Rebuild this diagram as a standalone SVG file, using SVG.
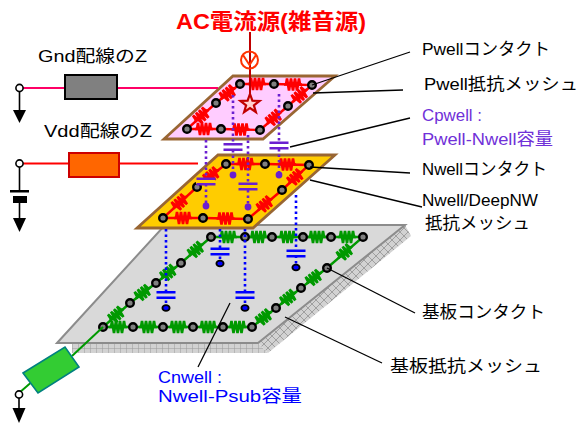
<svg xmlns="http://www.w3.org/2000/svg" xmlns:xlink="http://www.w3.org/1999/xlink" width="581" height="426" viewBox="0 0 581 426">
  <style>
    text { font-family: "Liberation Sans", "Noto Sans CJK JP", sans-serif; font-size: 17px; fill: #000; }
    .title { font-size: 22px; font-weight: bold; fill: #ff0000; }
    .purple { fill: #7030d8; }
    .blue { fill: #0000ff; }
    .leader { stroke: #000; stroke-width: 1.3; fill: none; }
    .node { fill: #808080; stroke: #000; stroke-width: 2.4; }
    .wire-red { stroke: #ff0000; stroke-width: 2.4; fill: none; }
    .wire-green { stroke: #009900; stroke-width: 2.4; fill: none; }
    .res-red { stroke: #ff0000; stroke-width: 2.6; fill: none; }
    .res-green { stroke: #009900; stroke-width: 2.6; fill: none; }
    .dot-purple { stroke: #6a1fd0; stroke-width: 2.6; stroke-dasharray: 2.5 3; fill: none; }
    .dot-blue { stroke: #0000ff; stroke-width: 2.6; stroke-dasharray: 2.5 3; fill: none; }
    .cap-purple { fill: #6a1fd0; }
    .cap-blue { fill: #0000ff; }
    .gnd { fill: #000; }
  </style>
  <defs>
    <!-- zigzag resistor, centred on origin, lying along x -->
    <path id="rz" d="M-9,0 H-7 L-6,-6 L-4,6 L-2,-6 L0,6 L2,-6 L4,6 L6,-6 L7,0 H9"/>
    <!-- capacitor: two plates, centred on origin -->
    <g id="capP"><rect x="-9.5" y="-4" width="19" height="2.5"/><rect x="-9.5" y="1.5" width="19" height="2.5"/></g>
    <pattern id="gridFace" width="6" height="6" patternUnits="userSpaceOnUse">
      <rect width="6" height="6" fill="#d2d2d2"/>
      <path d="M0,0 H6 M0,0 V6" stroke="#9a9a9a" stroke-width="1"/>
    </pattern>
    <pattern id="crossFace" width="8" height="8" patternUnits="userSpaceOnUse">
      <rect width="8" height="8" fill="#d2d2d2"/>
      <path d="M0,0 L8,8 M8,0 L0,8" stroke="#9a9a9a" stroke-width="0.9"/>
    </pattern>
  </defs>

  <!-- substrate slab with its resistor mesh -->
  <g id="substrate">
    <polygon points="72,343 258,343 268,353 72,353" fill="url(#gridFace)"/>
    <polygon points="258,343 405,225 411,236 268,353" fill="url(#crossFace)"/>
    <polygon points="57,343 165,225 405,225 258,343" fill="#d9d9d9" stroke="#8c8c8c" stroke-width="2"/>
    <polyline class="wire-green" points="211,237 363,237 327,268 301,288 276,308 252,327 103,327 130,303 156,283 181,263 211,237"/>
    <g class="res-green">
      <use xlink:href="#rz" transform="translate(228,237)"/>
      <use xlink:href="#rz" transform="translate(258.5,237)"/>
      <use xlink:href="#rz" transform="translate(287.5,237)"/>
      <use xlink:href="#rz" transform="translate(317,237)"/>
      <use xlink:href="#rz" transform="translate(347,237)"/>
      <use xlink:href="#rz" transform="translate(345,252.5) rotate(-40.7)"/>
      <use xlink:href="#rz" transform="translate(314,278) rotate(-37.6)"/>
      <use xlink:href="#rz" transform="translate(288.5,298) rotate(-38.7)"/>
      <use xlink:href="#rz" transform="translate(264,317.5) rotate(-38.4)"/>
      <use xlink:href="#rz" transform="translate(118,327)"/>
      <use xlink:href="#rz" transform="translate(148,327)"/>
      <use xlink:href="#rz" transform="translate(178,327)"/>
      <use xlink:href="#rz" transform="translate(208,327)"/>
      <use xlink:href="#rz" transform="translate(237.5,327)"/>
      <use xlink:href="#rz" transform="translate(116.5,315) rotate(-41.6)"/>
      <use xlink:href="#rz" transform="translate(143,293) rotate(-37.6)"/>
      <use xlink:href="#rz" transform="translate(168.5,273) rotate(-38.7)"/>
      <use xlink:href="#rz" transform="translate(196,250) rotate(-40.9)"/>
    </g>
    <g class="node">
      <circle cx="211" cy="237" r="3.8"/><circle cx="245" cy="237" r="3.8"/><circle cx="272" cy="237" r="3.8"/>
      <circle cx="303" cy="237" r="3.8"/><circle cx="331" cy="237" r="3.8"/><circle cx="363" cy="237" r="3.8"/>
      <circle cx="327" cy="268" r="3.8"/><circle cx="301" cy="288" r="3.8"/><circle cx="276" cy="308" r="3.8"/>
      <circle cx="252" cy="327" r="3.8"/><circle cx="223" cy="327" r="3.8"/><circle cx="193" cy="327" r="3.8"/>
      <circle cx="163" cy="327" r="3.8"/><circle cx="133" cy="327" r="3.8"/><circle cx="103" cy="327" r="3.8"/>
      <circle cx="130" cy="303" r="3.8"/><circle cx="156" cy="283" r="3.8"/><circle cx="181" cy="263" r="3.8"/>
    </g>
  </g>

  <!-- Nwell plate with its resistor mesh -->
  <g id="nwell">
    <polygon points="218,155 335,155 253,228 137,228" fill="#ffcc00" stroke="#996633" stroke-width="2.8"/>
    <polygon class="wire-red" points="163,218 203,218 248,219 282,190 309,165 265,164 226,164 197,187"/>
    <g class="res-red">
      <use xlink:href="#rz" transform="translate(183,218)"/>
      <use xlink:href="#rz" transform="translate(225.5,218.5)"/>
      <use xlink:href="#rz" transform="translate(265,204.5) rotate(-40.5)"/>
      <use xlink:href="#rz" transform="translate(295.5,177.5) rotate(-42.8)"/>
      <use xlink:href="#rz" transform="translate(287,164.5)"/>
      <use xlink:href="#rz" transform="translate(245.5,164)"/>
      <use xlink:href="#rz" transform="translate(211.5,175.5) rotate(-38.4)"/>
      <use xlink:href="#rz" transform="translate(180,202.5) rotate(-42.4)"/>
    </g>
    <g class="node">
      <circle cx="163" cy="218" r="3.8"/><circle cx="203" cy="218" r="3.8"/><circle cx="248" cy="219" r="3.8"/>
      <circle cx="282" cy="190" r="3.8"/><circle cx="309" cy="165" r="3.8"/><circle cx="265" cy="164" r="3.8"/>
      <circle cx="226" cy="164" r="3.8"/><circle cx="197" cy="187" r="3.8"/>
    </g>
  </g>

  <!-- Pwell plate with its resistor mesh -->
  <g id="pwell">
    <polygon points="233,76 335,76 263,139 164,139" fill="#ffccff" stroke="#996633" stroke-width="2.8"/>
    <polygon class="wire-red" points="187,129 221,129 260,130 288,106 312,85 274,84 240,84 216,103"/>
    <g class="res-red">
      <use xlink:href="#rz" transform="translate(204,129)"/>
      <use xlink:href="#rz" transform="translate(240.5,129.5)"/>
      <use xlink:href="#rz" transform="translate(274,118) rotate(-40.6)"/>
      <use xlink:href="#rz" transform="translate(300,95.5) rotate(-41)"/>
      <use xlink:href="#rz" transform="translate(293,84.5)"/>
      <use xlink:href="#rz" transform="translate(257,84)"/>
      <use xlink:href="#rz" transform="translate(228,93.5) rotate(-38.4)"/>
      <use xlink:href="#rz" transform="translate(201.5,116) rotate(-41.9)"/>
    </g>
    <g class="node">
      <circle cx="187" cy="129" r="3.8"/><circle cx="221" cy="129" r="3.8"/><circle cx="260" cy="130" r="3.8"/>
      <circle cx="288" cy="106" r="3.8"/><circle cx="312" cy="85" r="3.8"/><circle cx="274" cy="84" r="3.8"/>
      <circle cx="240" cy="84" r="3.8"/><circle cx="216" cy="103" r="3.8"/>
    </g>
  </g>

  <!-- AC current source injecting into the Pwell -->
  <g id="ac-source">
    <line x1="250" y1="32" x2="250" y2="100" stroke="#c00000" stroke-width="2"/>
    <circle cx="249.5" cy="60" r="8.5" fill="none" stroke="#ff3300" stroke-width="2"/>
    <polyline points="243,55 249.5,65 256,55" fill="none" stroke="#ff3300" stroke-width="2"/>
    <polygon points="250,94 252.4,100.7 259.5,100.9 253.9,105.3 255.9,112.1 250,108.1 244.1,112.1 246.1,105.3 240.5,100.9 247.6,100.7" fill="#ffd0d0" stroke="#c00000" stroke-width="2.2"/>
  </g>

  <!-- Gnd wiring impedance -->
  <g id="gnd-z">
    <line x1="22" y1="88" x2="218" y2="88" stroke="#ff0066" stroke-width="2"/>
    <rect x="65" y="75" width="52" height="24" fill="#808080" stroke="#000" stroke-width="2"/>
    <line x1="19.5" y1="91.5" x2="19.5" y2="110" stroke="#000" stroke-width="1.6"/>
    <circle cx="19.5" cy="88" r="3.6" fill="#fff" stroke="#000" stroke-width="1.6"/>
    <polygon class="gnd" points="13,110 26,110 19.5,123"/>
  </g>

  <!-- Vdd wiring impedance -->
  <g id="vdd-z">
    <line x1="22" y1="163.5" x2="198" y2="163.5" stroke="#ff0000" stroke-width="2"/>
    <rect x="69" y="153" width="50" height="24" fill="#ff6600" stroke="#cc0000" stroke-width="2"/>
    <line x1="19.5" y1="167" x2="19.5" y2="191" stroke="#000" stroke-width="1.6"/>
    <circle cx="19.5" cy="163.5" r="3.6" fill="#fff" stroke="#000" stroke-width="1.6"/>
    <rect x="10" y="190" width="19" height="2.5" fill="#000"/>
    <rect x="13" y="196" width="14" height="7" fill="#000"/>
    <line x1="19.5" y1="203" x2="19.5" y2="218" stroke="#000" stroke-width="1.6"/>
    <polygon class="gnd" points="13,218 26,218 19.5,232"/>
  </g>

  <!-- substrate tie impedance -->
  <g id="sub-z">
    <line x1="103" y1="327" x2="72" y2="356" stroke="#009900" stroke-width="2"/>
    <line x1="30.5" y1="383" x2="19" y2="393" stroke="#009900" stroke-width="2"/>
    <polygon points="23,373 65,347 79,367 38,393" fill="#33cc33" stroke="#008080" stroke-width="1.6"/>
    <line x1="19" y1="398" x2="19" y2="408" stroke="#000" stroke-width="1.6"/>
    <circle cx="19" cy="394.5" r="3.6" fill="#fff" stroke="#000" stroke-width="1.6"/>
    <polygon class="gnd" points="12.5,408 25.5,408 19,423"/>
  </g>

  <!-- connectors: well capacitances and label leaders -->
  <g id="connectors">
    <!-- Cpwell between Pwell and Nwell -->
    <path class="dot-purple" d="M233,95 V175 M279,94 V175 M206,140 V206 M248,135 V207"/>
    <g class="cap-purple">
      <rect x="223" y="142" width="19" height="6" fill="#fff"/>
      <use xlink:href="#capP" transform="translate(233,147)"/>
      <rect x="269" y="141" width="19" height="6" fill="#fff"/>
      <use xlink:href="#capP" transform="translate(279,145.5)"/>
      <rect x="196" y="178" width="19" height="6" fill="#ffcc00"/>
      <use xlink:href="#capP" transform="translate(206,181.5)"/>
      <rect x="238" y="183" width="19" height="6" fill="#ffcc00"/>
      <use xlink:href="#capP" transform="translate(248,186.5)"/>
      <circle cx="233" cy="175" r="3.4"/><circle cx="279" cy="175" r="3.4"/>
      <circle cx="206" cy="206" r="3.4"/><circle cx="248" cy="207" r="3.4"/>
    </g>
    <!-- Cnwell between Nwell and substrate -->
    <path class="dot-blue" d="M166,229 V306 M245,229 V306 M220,229 V261 M296,195 V265"/>
    <g class="cap-blue">
      <rect x="156" y="292" width="19" height="6" fill="#d9d9d9"/>
      <use xlink:href="#capP" transform="translate(166,295)"/>
      <rect x="235" y="292" width="19" height="6" fill="#d9d9d9"/>
      <use xlink:href="#capP" transform="translate(245,295)"/>
      <rect x="210" y="249" width="19" height="6" fill="#d9d9d9"/>
      <use xlink:href="#capP" transform="translate(220,251.5)"/>
      <rect x="286" y="251" width="19" height="6" fill="#d9d9d9"/>
      <use xlink:href="#capP" transform="translate(296,253.5)"/>
      <g stroke="#000" stroke-width="1.8">
        <ellipse cx="166" cy="308" rx="3.6" ry="2.8"/><ellipse cx="245" cy="308" rx="3.6" ry="2.8"/>
        <ellipse cx="220" cy="263.5" rx="3.6" ry="2.8"/><ellipse cx="296" cy="267.5" rx="3.6" ry="2.8"/>
      </g>
    </g>
    <!-- leader lines -->
    <line class="leader" x1="312" y1="85" x2="410" y2="52"/>
    <line class="leader" x1="313" y1="93" x2="403" y2="90"/>
    <line class="leader" x1="290" y1="147" x2="410" y2="118"/>
    <line class="leader" x1="310" y1="167" x2="410" y2="173"/>
    <line class="leader" x1="310" y1="180" x2="422" y2="207"/>
    <line class="leader" x1="327" y1="268" x2="415" y2="313"/>
    <line class="leader" x1="285" y1="317" x2="382" y2="363"/>
    <line class="leader" x1="230" y1="303" x2="198" y2="367" stroke-width="1.8"/>
  </g>

  <!-- labels -->
  <g id="label-ac"><text class="title" x="176" y="29" textLength="190" lengthAdjust="spacingAndGlyphs">AC電流源(雑音源)</text></g>
  <g id="label-gnd"><text x="38" y="62" textLength="109" lengthAdjust="spacingAndGlyphs">Gnd配線のZ</text></g>
  <g id="label-vdd"><text x="44" y="137" textLength="108" lengthAdjust="spacingAndGlyphs">Vdd配線のZ</text></g>
  <g id="label-pwell-contact"><text x="422" y="55" textLength="128" lengthAdjust="spacingAndGlyphs">Pwellコンタクト</text></g>
  <g id="label-pwell-mesh"><text x="424" y="90" textLength="154" lengthAdjust="spacingAndGlyphs">Pwell抵抗メッシュ</text></g>
  <g id="label-cpwell">
    <text class="purple" x="422" y="121" textLength="60" lengthAdjust="spacingAndGlyphs">Cpwell :</text>
    <text class="purple" x="422" y="145" textLength="131" lengthAdjust="spacingAndGlyphs">Pwell-Nwell容量</text>
  </g>
  <g id="label-nwell-contact"><text x="422" y="175" textLength="125" lengthAdjust="spacingAndGlyphs">Nwellコンタクト</text></g>
  <g id="label-nwell-mesh">
    <text x="422" y="206" textLength="116" lengthAdjust="spacingAndGlyphs">Nwell/DeepNW</text>
    <text x="425" y="229" textLength="105" lengthAdjust="spacingAndGlyphs">抵抗メッシュ</text>
  </g>
  <g id="label-sub-contact"><text x="422" y="318" textLength="123" lengthAdjust="spacingAndGlyphs">基板コンタクト</text></g>
  <g id="label-sub-mesh"><text x="390" y="372" textLength="152" lengthAdjust="spacingAndGlyphs">基板抵抗メッシュ</text></g>
  <g id="label-cnwell">
    <text class="blue" x="158" y="383" textLength="64" lengthAdjust="spacingAndGlyphs">Cnwell :</text>
    <text class="blue" x="158" y="402" textLength="144" lengthAdjust="spacingAndGlyphs">Nwell-Psub容量</text>
  </g>
</svg>
